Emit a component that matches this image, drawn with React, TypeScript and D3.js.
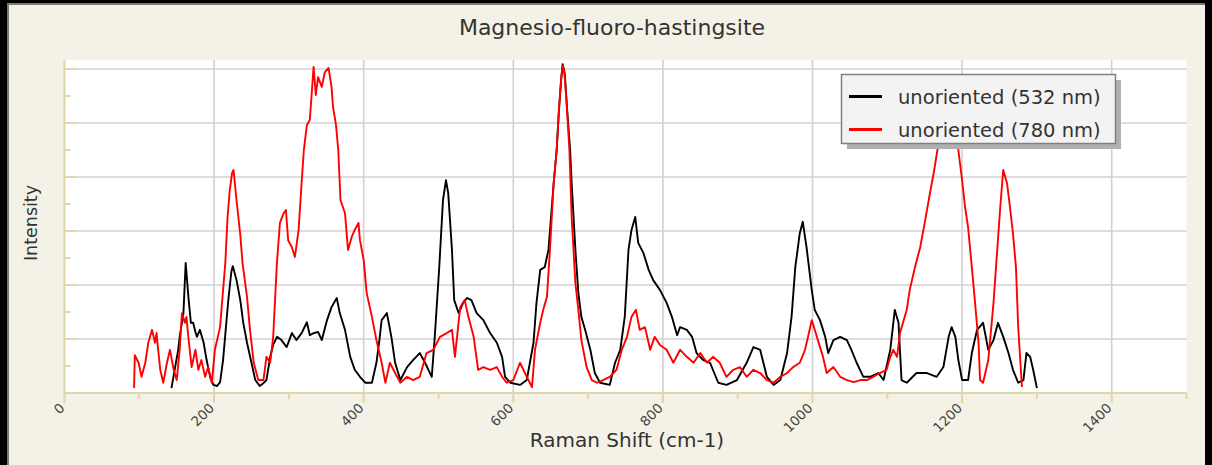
import React, { useEffect, useRef } from "react";
import * as d3 from "d3";

const chartTitle = "Magnesio-fluoro-hastingsite";
const xLabel = "Raman Shift (cm-1)";
const yLabel = "Intensity";
const xTicks = [0, 200, 400, 600, 800, 1000, 1200, 1400];
const xMinorTicks = [100, 300, 500, 700, 900, 1100, 1300, 1500];
const yTicks = [0, 0.1, 0.2, 0.3, 0.4, 0.5, 0.6];
const yMinorTicks = [0.05, 0.15, 0.25, 0.35, 0.45, 0.55];

// [Raman shift, intensity]
const spectrum532 = [
  [143, 0.009], [152, 0.080], [154, 0.104], [159, 0.148], [162, 0.241], [166, 0.172],
  [169, 0.130], [172, 0.130], [175, 0.113], [177, 0.104], [181, 0.117], [186, 0.093],
  [190, 0.061], [195, 0.028], [199, 0.015], [204, 0.013], [208, 0.020], [212, 0.061],
  [217, 0.141], [219, 0.172], [223, 0.224], [225, 0.235], [230, 0.209], [235, 0.172],
  [239, 0.130], [244, 0.093], [250, 0.056], [255, 0.024], [261, 0.013], [265, 0.017],
  [270, 0.024], [275, 0.067], [279, 0.089], [284, 0.104], [290, 0.098], [297, 0.085],
  [304, 0.111], [310, 0.098], [317, 0.111], [324, 0.131], [328, 0.107], [333, 0.111],
  [339, 0.113], [344, 0.098], [351, 0.135], [357, 0.159], [364, 0.176], [368, 0.148],
  [375, 0.117], [382, 0.067], [388, 0.043], [395, 0.030], [402, 0.019], [411, 0.019],
  [417, 0.056], [421, 0.098], [424, 0.135], [431, 0.148], [437, 0.104], [442, 0.056],
  [449, 0.024], [458, 0.048], [466, 0.061], [475, 0.074], [482, 0.056], [491, 0.030],
  [495, 0.104], [501, 0.233], [506, 0.357], [510, 0.394], [513, 0.370], [518, 0.265],
  [521, 0.172], [527, 0.148], [533, 0.167], [538, 0.176], [544, 0.172], [551, 0.148],
  [560, 0.135], [569, 0.111], [578, 0.093], [585, 0.067], [589, 0.030], [596, 0.019],
  [609, 0.015], [618, 0.024], [627, 0.093], [631, 0.167], [636, 0.228], [642, 0.233],
  [647, 0.265], [654, 0.389], [658, 0.450], [661, 0.524], [664, 0.580], [666, 0.609],
  [669, 0.589], [672, 0.524], [676, 0.450], [678, 0.389], [683, 0.265], [687, 0.185],
  [691, 0.141], [696, 0.117], [703, 0.080], [709, 0.037], [716, 0.019], [729, 0.015],
  [736, 0.056], [743, 0.080], [749, 0.141], [754, 0.265], [758, 0.302], [763, 0.326],
  [767, 0.278], [774, 0.259], [781, 0.228], [787, 0.209], [796, 0.191], [805, 0.167],
  [812, 0.141], [819, 0.107], [823, 0.122], [832, 0.117], [839, 0.104], [845, 0.074],
  [854, 0.061], [863, 0.056], [874, 0.019], [885, 0.015], [899, 0.024], [912, 0.056],
  [921, 0.085], [930, 0.080], [939, 0.030], [948, 0.015], [957, 0.024], [966, 0.074],
  [972, 0.141], [977, 0.233], [983, 0.296], [987, 0.317], [992, 0.270], [999, 0.191],
  [1003, 0.154], [1010, 0.135], [1017, 0.104], [1021, 0.074], [1028, 0.098], [1037, 0.104],
  [1046, 0.098], [1052, 0.080], [1059, 0.056], [1068, 0.030], [1077, 0.030], [1088, 0.037],
  [1095, 0.024], [1104, 0.080], [1110, 0.154], [1115, 0.130], [1119, 0.024], [1126, 0.019],
  [1139, 0.037], [1153, 0.037], [1166, 0.030], [1175, 0.048], [1182, 0.104], [1186, 0.122],
  [1191, 0.104], [1195, 0.061], [1200, 0.024], [1208, 0.024], [1213, 0.074], [1220, 0.117],
  [1228, 0.130], [1235, 0.080], [1242, 0.098], [1248, 0.130], [1255, 0.104], [1262, 0.074],
  [1268, 0.043], [1275, 0.019], [1282, 0.024], [1286, 0.074], [1291, 0.067], [1295, 0.043],
  [1300, 0.009],
];

const spectrum780 = [
  [93, 0.009], [94, 0.070], [99, 0.056], [103, 0.030], [108, 0.056], [112, 0.093],
  [117, 0.117], [121, 0.093], [123, 0.111], [128, 0.043], [132, 0.019], [137, 0.056],
  [141, 0.080], [146, 0.043], [150, 0.024], [154, 0.080], [157, 0.148], [161, 0.130],
  [163, 0.141], [166, 0.098], [170, 0.048], [175, 0.080], [179, 0.043], [183, 0.061],
  [188, 0.030], [192, 0.048], [197, 0.019], [201, 0.080], [208, 0.122], [212, 0.191],
  [215, 0.241], [218, 0.326], [221, 0.376], [224, 0.407], [226, 0.413], [230, 0.357],
  [235, 0.293], [238, 0.241], [244, 0.178], [248, 0.117], [253, 0.056], [259, 0.024],
  [266, 0.024], [270, 0.067], [275, 0.056], [279, 0.104], [284, 0.241], [288, 0.315],
  [293, 0.333], [296, 0.339], [299, 0.283], [304, 0.270], [308, 0.252], [313, 0.302],
  [317, 0.389], [320, 0.450], [324, 0.496], [328, 0.506], [333, 0.604], [336, 0.552],
  [339, 0.585], [344, 0.567], [348, 0.594], [353, 0.602], [357, 0.567], [359, 0.530],
  [363, 0.496], [366, 0.450], [369, 0.357], [375, 0.333], [379, 0.265], [384, 0.289],
  [388, 0.302], [393, 0.315], [395, 0.283], [400, 0.246], [404, 0.185], [411, 0.141],
  [417, 0.098], [424, 0.056], [429, 0.019], [435, 0.056], [442, 0.037], [449, 0.019],
  [458, 0.030], [466, 0.024], [475, 0.030], [484, 0.074], [493, 0.080], [502, 0.104],
  [511, 0.111], [518, 0.117], [522, 0.067], [529, 0.159], [535, 0.172], [540, 0.141],
  [547, 0.104], [553, 0.043], [560, 0.048], [569, 0.043], [578, 0.048], [585, 0.030],
  [591, 0.019], [600, 0.024], [609, 0.056], [618, 0.030], [625, 0.011], [629, 0.080],
  [636, 0.130], [640, 0.154], [645, 0.178], [649, 0.265], [654, 0.389], [658, 0.450],
  [661, 0.524], [664, 0.583], [666, 0.606], [668, 0.598], [671, 0.543], [675, 0.450],
  [678, 0.326], [683, 0.204], [687, 0.154], [691, 0.098], [698, 0.048], [705, 0.024],
  [712, 0.019], [720, 0.024], [729, 0.030], [738, 0.043], [745, 0.080], [752, 0.104],
  [758, 0.141], [764, 0.154], [769, 0.117], [776, 0.122], [783, 0.080], [789, 0.104],
  [796, 0.089], [805, 0.080], [814, 0.056], [823, 0.080], [832, 0.067], [841, 0.056],
  [850, 0.074], [859, 0.056], [867, 0.067], [876, 0.056], [885, 0.030], [894, 0.043],
  [903, 0.048], [912, 0.030], [921, 0.043], [930, 0.037], [939, 0.024], [948, 0.019],
  [957, 0.030], [966, 0.037], [974, 0.048], [983, 0.056], [990, 0.080], [994, 0.104],
  [999, 0.135], [1003, 0.117], [1010, 0.085], [1014, 0.067], [1019, 0.037], [1028, 0.048],
  [1037, 0.030], [1046, 0.024], [1055, 0.020], [1064, 0.024], [1073, 0.024], [1081, 0.030],
  [1090, 0.037], [1099, 0.043], [1104, 0.067], [1108, 0.080], [1113, 0.067], [1117, 0.111],
  [1126, 0.154], [1130, 0.191], [1137, 0.233], [1144, 0.270], [1150, 0.315], [1157, 0.370],
  [1162, 0.407], [1167, 0.450], [1171, 0.474], [1176, 0.506], [1181, 0.533], [1187, 0.543],
  [1191, 0.515], [1195, 0.450], [1200, 0.394], [1204, 0.344], [1208, 0.307], [1213, 0.233],
  [1217, 0.172], [1222, 0.093], [1224, 0.024], [1228, 0.019], [1235, 0.061], [1242, 0.167],
  [1246, 0.246], [1251, 0.344], [1255, 0.413], [1260, 0.389], [1264, 0.344], [1268, 0.296],
  [1272, 0.233], [1275, 0.122], [1280, 0.011],
];

const seriesNames = ["unoriented (532 nm)", "unoriented (780 nm)"];
const seriesColors = ["#000000", "#ff0000"];

function drawChart(node) {
  const width = 1212;
  const height = 465;
  const plot = { left: 64.5, right: 1186.5, top: 60, bottom: 393 };

  const svg = d3.select(node);
  svg.selectAll("*").remove();
  svg.attr("width", width).attr("height", height).style("font-family", "'DejaVu Sans', sans-serif");

  const x = d3.scaleLinear().domain([0, 1500]).range([plot.left, plot.right]);
  const y = d3.scaleLinear().domain([0, 0.6167]).range([plot.bottom, plot.top]);

  // frame & panel
  svg.append("rect").attr("width", width).attr("height", height).attr("fill", "#f4f2e6");
  svg.append("rect").attr("x", 0).attr("y", 0).attr("width", width).attr("height", 3).attr("fill", "#000");
  svg.append("rect").attr("x", 0).attr("y", 3).attr("width", width).attr("height", 2).attr("fill", "#7a7a7a");
  svg.append("rect").attr("x", 0).attr("y", 0).attr("width", 7).attr("height", height).attr("fill", "#000");
  svg.append("rect").attr("x", 7).attr("y", 3).attr("width", 2).attr("height", height).attr("fill", "#7a7a7a");
  svg.append("rect").attr("x", 1205).attr("y", 0).attr("width", 7).attr("height", height).attr("fill", "#000");

  svg.append("rect")
    .attr("x", plot.left).attr("y", plot.top)
    .attr("width", plot.right - plot.left).attr("height", plot.bottom - plot.top)
    .attr("fill", "#ffffff");

  // grid
  svg.append("g").selectAll("line")
    .data(yTicks.filter(d => d > 0))
    .enter().append("line")
    .attr("x1", plot.left).attr("x2", plot.right)
    .attr("y1", d => y(d)).attr("y2", d => y(d))
    .attr("stroke", "#d2d2d2").attr("stroke-width", 1.6);

  svg.append("g").selectAll("line")
    .data(xTicks.filter(d => d > 0))
    .enter().append("line")
    .attr("x1", d => x(d)).attr("x2", d => x(d))
    .attr("y1", plot.top).attr("y2", plot.bottom)
    .attr("stroke", "#d2d2d2").attr("stroke-width", 1.6);

  // series
  svg.append("clipPath").attr("id", "plotClip")
    .append("rect")
    .attr("x", plot.left).attr("y", plot.top)
    .attr("width", plot.right - plot.left).attr("height", plot.bottom - plot.top);

  const line = d3.line().x(d => x(d[0])).y(d => y(d[1]));
  const lines = svg.append("g").attr("clip-path", "url(#plotClip)");
  lines.append("path").datum(spectrum532)
    .attr("d", line).attr("fill", "none")
    .attr("stroke", seriesColors[0]).attr("stroke-width", 1.9).attr("stroke-linejoin", "round");
  lines.append("path").datum(spectrum780)
    .attr("d", line).attr("fill", "none")
    .attr("stroke", seriesColors[1]).attr("stroke-width", 1.9).attr("stroke-linejoin", "round");

  // axes
  const axisColor = "#dcd8a8";
  svg.append("line")
    .attr("x1", plot.left).attr("x2", plot.left).attr("y1", plot.top).attr("y2", plot.bottom)
    .attr("stroke", axisColor).attr("stroke-width", 2);
  svg.append("line")
    .attr("x1", plot.left).attr("x2", plot.right).attr("y1", plot.bottom).attr("y2", plot.bottom)
    .attr("stroke", axisColor).attr("stroke-width", 2);

  svg.append("g").selectAll("line")
    .data(yTicks.filter(d => d > 0))
    .enter().append("line")
    .attr("x1", plot.left).attr("x2", plot.left + 10)
    .attr("y1", d => y(d)).attr("y2", d => y(d))
    .attr("stroke", axisColor).attr("stroke-width", 2);
  svg.append("g").selectAll("line")
    .data(yMinorTicks)
    .enter().append("line")
    .attr("x1", plot.left).attr("x2", plot.left + 6)
    .attr("y1", d => y(d)).attr("y2", d => y(d))
    .attr("stroke", axisColor).attr("stroke-width", 2);

  svg.append("g").selectAll("line")
    .data(xTicks)
    .enter().append("line")
    .attr("x1", d => x(d)).attr("x2", d => x(d))
    .attr("y1", plot.bottom).attr("y2", plot.bottom + 10)
    .attr("stroke", axisColor).attr("stroke-width", 2);
  svg.append("g").selectAll("line")
    .data(xMinorTicks)
    .enter().append("line")
    .attr("x1", d => x(d)).attr("x2", d => x(d))
    .attr("y1", plot.bottom).attr("y2", plot.bottom + 6)
    .attr("stroke", axisColor).attr("stroke-width", 2);

  svg.append("g").selectAll("text")
    .data(xTicks)
    .enter().append("text")
    .attr("transform", d => "translate(" + (x(d) + 1) + "," + 409 + ") rotate(-45)")
    .attr("text-anchor", "end")
    .attr("fill", "#444")
    .style("font-size", "13.5px")
    .text(d => d);

  // labels
  svg.append("text")
    .attr("x", 612).attr("y", 35)
    .attr("text-anchor", "middle").attr("fill", "#333")
    .style("font-size", "22px")
    .text(chartTitle);

  svg.append("text")
    .attr("x", 627).attr("y", 447)
    .attr("text-anchor", "middle").attr("fill", "#333")
    .style("font-size", "20px")
    .text(xLabel);

  svg.append("text")
    .attr("transform", "translate(36.5,223) rotate(-90)")
    .attr("text-anchor", "middle").attr("fill", "#333")
    .style("font-size", "17.5px")
    .text(yLabel);

  // legend
  const legend = svg.append("g");
  legend.append("rect")
    .attr("x", 847).attr("y", 80).attr("width", 274).attr("height", 69)
    .attr("fill", "#b0b0b0");
  legend.append("rect")
    .attr("x", 841.5).attr("y", 74.5).attr("width", 274).attr("height", 69)
    .attr("fill", "#f3f3f3").attr("stroke", "#808080").attr("stroke-width", 1.5);

  const rows = legend.selectAll(".legend-row")
    .data(seriesNames)
    .enter().append("g")
    .attr("class", "legend-row")
    .attr("transform", (d, i) => "translate(0," + (i * 33) + ")");
  rows.append("line")
    .attr("x1", 849).attr("x2", 882).attr("y1", 96.5).attr("y2", 96.5)
    .attr("stroke", (d, i) => seriesColors[i]).attr("stroke-width", 3);
  rows.append("text")
    .attr("x", 898).attr("y", 103.5)
    .attr("fill", "#333")
    .style("font-size", "19.5px")
    .text(d => d);
}

const App = () => {
  const ref = useRef(null);

  useEffect(() => {
    drawChart(ref.current);
  });

  return (
    <svg ref={ref} style={{ position: "absolute", left: 0, top: 0 }}></svg>
  );
};

export default App;
